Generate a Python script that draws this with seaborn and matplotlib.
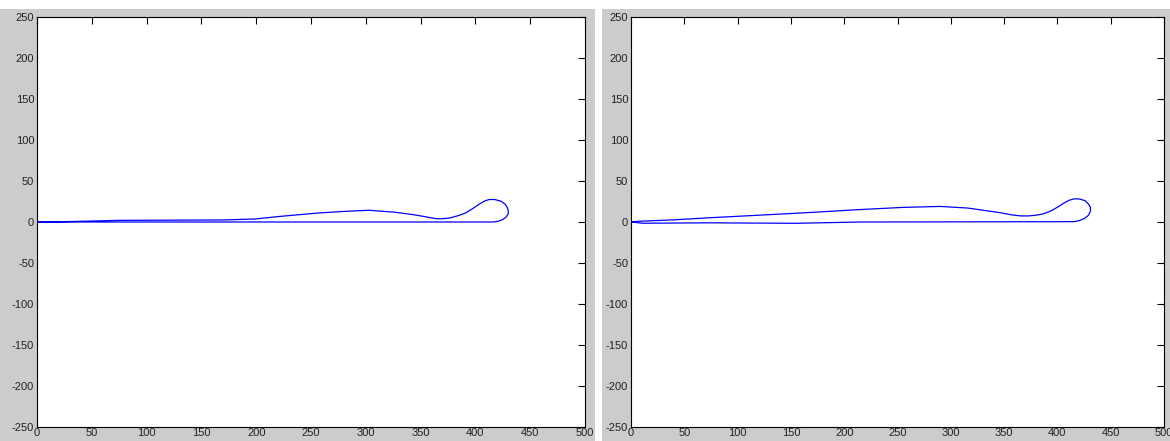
import matplotlib
matplotlib.use("Agg")
import matplotlib.pyplot as plt
import seaborn as sns
import pandas as pd
from matplotlib.patches import Rectangle

# Left panel curve (closed outline, traced around)
x_left = [0, 100, 200, 300, 417, 421, 425, 428, 430, 430, 429, 427, 423, 418, 413,
          409, 405, 401, 396, 391, 385, 377, 370, 365, 360, 352, 343, 326, 303,
          281, 257, 223, 199, 171, 75, 45, 20, 0]
y_left = [0, 0, 0, 0, 0, 1, 3, 6, 10, 14, 18, 22, 25.5, 27.3, 27.5,
          26, 23, 19.5, 15, 11, 8, 5, 4, 4, 5, 7, 9, 12, 14.3,
          13, 11, 7, 3.7, 2.5, 2, 1, 0.3, 0]

# Right panel curve
x_right = [0, 11, 73, 154, 216, 415, 420, 425, 429, 431, 431, 429, 426, 421, 416,
           411, 406, 400, 394, 387, 380, 373, 366, 358, 345, 316, 290, 255, 211,
           168, 126, 77, 38, 6, 0]
y_right = [0, -1.5, -1, -1.6, 0, 0.4, 1.5, 4, 8, 13, 18, 22, 26, 28, 28.3,
           26.5, 23, 18, 13.6, 10, 8.3, 7.4, 7.4, 8.5, 11.6, 17, 19, 17.8, 14.9,
           11.6, 8.7, 5.4, 2.5, 0.8, 0]

x_ticks = list(range(0, 501, 50))
y_ticks = list(range(-250, 251, 50))

sns.set_theme(style="white")
plt.rcParams['font.family'] = ['Liberation Sans', 'DejaVu Sans']
plt.rcParams['axes.unicode_minus'] = False

W, H = 1170, 441
fig = plt.figure(figsize=(W / 100, H / 100), dpi=100)
fig.patch.set_facecolor("white")

gray = "#cccccc"
fig.patches.append(Rectangle((0, 0), 595 / W, 1 - 9 / H, transform=fig.transFigure,
                             facecolor=gray, edgecolor="none", zorder=-10))
fig.patches.append(Rectangle((602 / W, 0), 1 - 602 / W, 1 - 9 / H, transform=fig.transFigure,
                             facecolor=gray, edgecolor="none", zorder=-10))

top_px, bot_px = 17, 427
bottom = 1 - bot_px / H
height = (bot_px - top_px) / H
ax1 = fig.add_axes([37 / W, bottom, (585 - 37) / W, height])
ax2 = fig.add_axes([631 / W, bottom, (1164 - 631) / W, height])

for ax, xs, ys in [(ax1, x_left, y_left), (ax2, x_right, y_right)]:
    df = pd.DataFrame({"x": xs, "y": ys})
    sns.lineplot(data=df, x="x", y="y", sort=False, estimator=None, ax=ax,
                 color="#0000ff", linewidth=0.9)
    ax.set_facecolor("white")
    ax.set_xlim(0, 500)
    ax.set_ylim(-250, 250)
    ax.set_xticks(x_ticks)
    ax.set_yticks(y_ticks)
    ax.set_xlabel("")
    ax.set_ylabel("")
    ax.tick_params(direction="in", length=5, width=0.8, top=True, right=True,
                   labelsize=8, labelcolor="#222222", color="black")
    ax.tick_params(axis="x", pad=1)
    ax.tick_params(axis="y", pad=2)
    for s in ax.spines.values():
        s.set_visible(True)
        s.set_color("black")
        s.set_linewidth(0.8)

fig.savefig("out.png", dpi=100, facecolor=fig.get_facecolor())
